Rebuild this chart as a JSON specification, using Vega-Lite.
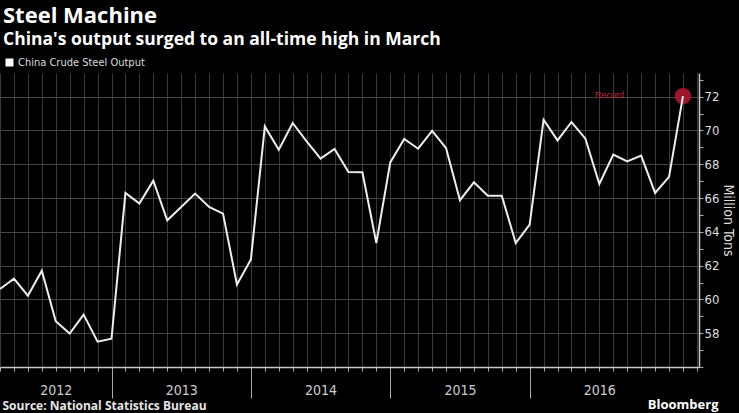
{
  "$schema": "https://vega.github.io/schema/vega-lite/v6.json",
  "width": 699,
  "height": 294,
  "autosize": {"type": "none"},
  "padding": {"top": 73, "left": 0, "right": 40, "bottom": 46},
  "background": "#000000",
  "title": {
    "text": "Steel Machine",
    "subtitle": "China's output surged to an all-time high in March",
    "anchor": "start",
    "frame": "group",
    "dx": 3,
    "offset": 8,
    "font": "Open Sans",
    "fontSize": 22,
    "fontWeight": "bold",
    "color": "#ffffff",
    "subtitleFont": "Open Sans",
    "subtitleFontSize": 17.5,
    "subtitleFontWeight": "bold",
    "subtitleColor": "#ffffff",
    "subtitlePadding": 3
  },
  "data": {
    "values": [
      {"i": 0, "v": 60.62}, {"i": 1, "v": 61.23}, {"i": 2, "v": 60.22}, {"i": 3, "v": 61.7},
      {"i": 4, "v": 58.71}, {"i": 5, "v": 57.98}, {"i": 6, "v": 59.1}, {"i": 7, "v": 57.5},
      {"i": 8, "v": 57.68}, {"i": 9, "v": 66.3}, {"i": 10, "v": 65.67}, {"i": 11, "v": 67.03},
      {"i": 12, "v": 64.68}, {"i": 13, "v": 65.47}, {"i": 14, "v": 66.26}, {"i": 15, "v": 65.47},
      {"i": 16, "v": 65.08}, {"i": 17, "v": 60.88}, {"i": 18, "v": 62.36}, {"i": 19, "v": 70.24},
      {"i": 20, "v": 68.86}, {"i": 21, "v": 70.44}, {"i": 22, "v": 69.36}, {"i": 23, "v": 68.33},
      {"i": 24, "v": 68.9}, {"i": 25, "v": 67.54}, {"i": 26, "v": 67.52}, {"i": 27, "v": 63.34},
      {"i": 28, "v": 68.11}, {"i": 29, "v": 69.5}, {"i": 30, "v": 68.92}, {"i": 31, "v": 69.97},
      {"i": 32, "v": 68.96}, {"i": 33, "v": 65.87}, {"i": 34, "v": 66.93}, {"i": 35, "v": 66.14},
      {"i": 36, "v": 66.14}, {"i": 37, "v": 63.34}, {"i": 38, "v": 64.43}, {"i": 39, "v": 70.64},
      {"i": 40, "v": 69.41}, {"i": 41, "v": 70.5}, {"i": 42, "v": 69.51}, {"i": 43, "v": 66.83},
      {"i": 44, "v": 68.57}, {"i": 45, "v": 68.17}, {"i": 46, "v": 68.51}, {"i": 47, "v": 66.3},
      {"i": 48, "v": 67.25}, {"i": 49, "v": 72.03}
    ]
  },
  "resolve": {"axis": {"x": "independent", "y": "independent"}},
  "layer": [
    {
      "transform": [{"filter": "datum.i == 49"}],
      "mark": {"type": "circle", "size": 270, "color": "#a8172f", "opacity": 0.92},
      "encoding": {
        "x": {
          "field": "i", "type": "quantitative",
          "scale": {"domain": [0, 50.15], "nice": false, "zero": false},
          "axis": {
            "orient": "bottom", "domain": false, "ticks": false, "labels": false, "grid": false,
            "title": "Bloomberg", "titleX": 718, "titleY": 41, "titleAlign": "right", "titleAnchor": "end",
            "titleBaseline": "alphabetic", "titleFont": "Open Sans", "titleFontSize": 13,
            "titleFontWeight": "bold", "titleColor": "#ffffff"
          }
        },
        "y": {
          "field": "v", "type": "quantitative",
          "axis": {
            "orient": "right", "values": [57,59,61,63,65,67,69,71,73],
            "domain": false, "labels": false, "grid": false, "title": null,
            "tickSize": 4, "tickColor": "#aaaaaa", "offset": 0
          }
        }
      }
    },
    {
      "mark": {"type": "line", "strokeWidth": 2},
      "encoding": {
        "x": {
          "field": "i", "type": "quantitative",
          "scale": {"domain": [0, 50.15], "nice": false, "zero": false},
          "axis": {
            "orient": "bottom",
            "values": [0,1,2,3,4,5,6,7,8,9,10,11,12,13,14,15,16,17,18,19,20,21,22,23,24,25,26,27,28,29,30,31,32,33,34,35,36,37,38,39,40,41,42,43,44,45,46,47,48,49,50],
            "grid": true, "gridColor": "#3a3a3a", "gridWidth": 1,
            "domainColor": "#c8c8c8", "domainWidth": 1.5,
            "tickColor": "#aaaaaa", "tickWidth": 1,
            "tickSize": {"condition": {"test": "indexof([8,18,28,38], datum.value) >= 0", "value": 31}, "value": 4},
            "labelExpr": "datum.value == 4 ? '2012' : datum.value == 13 ? '2013' : datum.value == 23 ? '2014' : datum.value == 33 ? '2015' : datum.value == 43 ? '2016' : ''",
            "labelFont": "DejaVu Sans Condensed, Roboto, sans-serif", "labelFontSize": 14, "labelColor": "#cccccc",
            "labelPadding": 12, "labelFlush": false, "labelOverlap": false, "labelBound": false,
            "title": "Source: National Statistics Bureau", "titleX": 2, "titleY": 42,
            "titleAlign": "left", "titleAnchor": "start", "titleBaseline": "alphabetic",
            "titleFont": "Open Sans", "titleFontSize": 12, "titleFontWeight": "bold", "titleColor": "#e6e6e6"
          }
        },
        "y": {
          "field": "v", "type": "quantitative",
          "scale": {"domain": [56, 73.4], "nice": false, "zero": false},
          "axis": {
            "orient": "right",
            "values": [56,58,60,62,64,66,68,70,72],
            "tickSize": 4, "tickColor": "#aaaaaa",
            "domainColor": "#c8c8c8", "domainWidth": 1.5,
            "grid": true, "gridWidth": 1, "gridColor": "#444444",
            "labelExpr": "datum.value > 56 ? datum.label : ''",
            "labelFont": "DejaVu Sans Condensed, Roboto, sans-serif", "labelFontSize": 13, "labelColor": "#dddddd",
            "labelPadding": 1, "labelOverlap": false, "labelBound": false,
            "title": "Million Tons", "titleFont": "DejaVu Sans Condensed, Roboto, sans-serif", "titleFontSize": 14,
            "titleFontWeight": "normal", "titleColor": "#dddddd", "titlePadding": 2
          }
        },
        "color": {
          "datum": "China Crude Steel Output",
          "scale": {"range": ["#eeeeee"]},
          "legend": {
            "orient": "none", "legendX": 4, "legendY": -16, "title": null,
            "symbolType": "square", "symbolSize": 64, "symbolFillColor": "#ffffff", "symbolStrokeWidth": 0,
            "labelFont": "DejaVu Sans Condensed, Roboto, sans-serif", "labelFontSize": 11, "labelColor": "#dddddd", "labelOffset": 3
          }
        }
      }
    },
    {
      "transform": [{"filter": "datum.i == 49"}],
      "mark": {"type": "text", "text": "Record", "align": "right", "baseline": "middle", "dx": -59, "dy": -1, "fontSize": 9, "font": "Liberation Sans", "color": "#c22340"},
      "encoding": {
        "x": {"field": "i", "type": "quantitative", "axis": null},
        "y": {"field": "v", "type": "quantitative", "axis": null}
      }
    }
  ],
  "config": {"view": {"stroke": null}}
}
